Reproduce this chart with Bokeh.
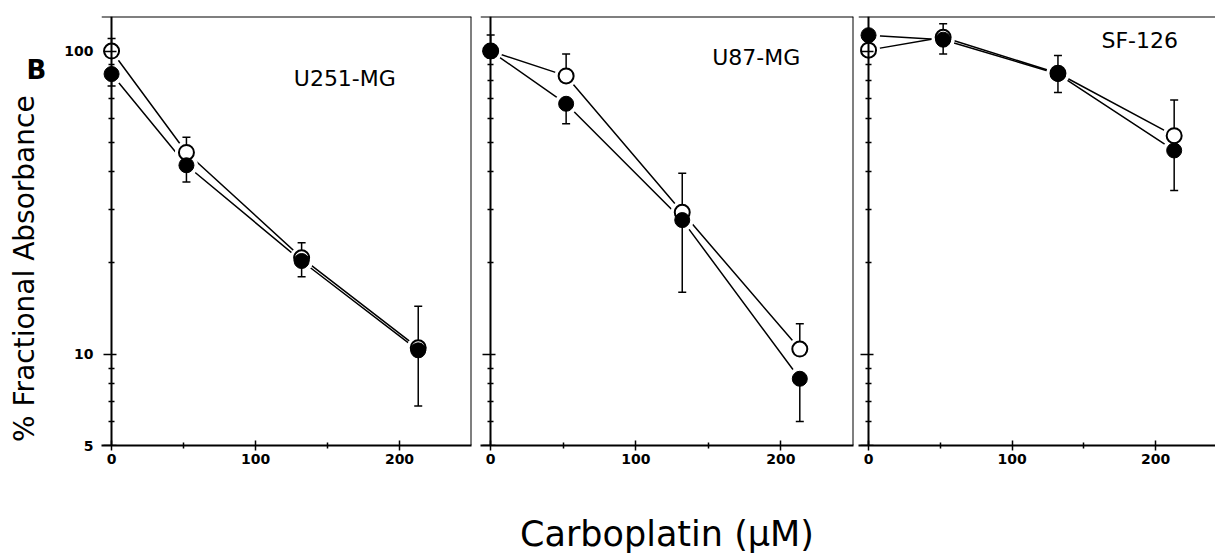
from bokeh.plotting import figure
from bokeh.layouts import row
from bokeh.models import LogAxis, FixedTicker, Label, Span, PrintfTickFormatter
from bokeh.embed import file_html
from bokeh.resources import INLINE

# ---------------- data ----------------
conc = [0, 52, 132, 213]  # Carboplatin (uM)

panel_names = ["U251-MG", "U87-MG", "SF-126"]

u251_open = [100, 46.3, 20.8, 10.5]
u251_open_hi = [110, 52, 23.3, 14.4]
u251_filled = [84, 42, 20.3, 10.3]
u251_filled_lo = [76.7, 37, 18, 6.75]

u87_open = [100, 82.8, 29.4, 10.4]
u87_open_hi = [113, 97.8, 39.5, 12.6]
u87_filled = [100, 67, 27.7, 8.3]
u87_filled_lo = [95, 57.6, 16.0, 6.0]

sf126_open = [100.7, 111, 84.5, 52.6]
sf126_open_hi = [103, 123, 96.7, 69]
sf126_filled = [112.8, 109, 84, 47]
sf126_filled_lo = [108, 97.8, 73, 34.7]

x_major = [0, 100, 200]
x_minor = [50, 150]
y_major = [5, 10, 100]
y_minor = [6, 7, 8, 9, 20, 30, 40, 50, 60, 70, 80, 90]

FONT = "DejaVu Sans"
Y0, Y1 = 5, 130
XSTART = -7
H = 558
TOP = 16
BOTTOM = 113


def make_panel(name, o, o_hi, f, f_lo, frame_w, lb, rb, xend, show_ylab,
               xlabel, right_border, title_xy):
    p = figure(width=lb + frame_w + rb, height=H,
               x_range=(XSTART, xend), y_range=(Y0, Y1),
               y_axis_type="log", y_axis_location=None,
               output_backend="svg", toolbar_location=None,
               min_border_left=lb, min_border_right=rb,
               min_border_top=TOP, min_border_bottom=BOTTOM)
    p.outline_line_color = None
    p.grid.visible = False
    p.background_fill_color = "white"
    p.border_fill_color = "white"

    xa = p.xaxis[0]
    xa.ticker = FixedTicker(ticks=x_major, minor_ticks=x_minor)
    xa.axis_line_width = 2
    xa.major_tick_in = 5
    xa.major_tick_out = 5
    xa.minor_tick_in = 3
    xa.minor_tick_out = 3
    xa.major_tick_line_width = 1.5
    xa.minor_tick_line_width = 1.5
    xa.major_label_text_font = FONT
    xa.major_label_text_font_style = "bold"
    xa.major_label_text_font_size = "14px"
    xa.major_label_text_color = "black"
    xa.major_label_standoff = 3
    if xlabel:
        xa.axis_label = xlabel
        xa.axis_label_text_font = FONT
        xa.axis_label_text_font_style = "normal"
        xa.axis_label_text_font_size = "35px"
        xa.axis_label_text_color = "black"
        xa.axis_label_standoff = 47

    # axis line + ticks drawn at x = 0
    ya = LogAxis(fixed_location=0,
                 ticker=FixedTicker(ticks=y_major, minor_ticks=y_minor),
                 formatter=PrintfTickFormatter(format="%d"))
    ya.axis_line_width = 2
    ya.major_tick_in = 5
    ya.major_tick_out = 8
    ya.minor_tick_in = 3
    ya.minor_tick_out = 3
    ya.major_tick_line_width = 1.5
    ya.minor_tick_line_width = 1.5
    ya.major_label_text_color = None
    p.add_layout(ya, "left")

    if show_ylab:
        # tick labels only, at the frame's left edge
        yl = LogAxis(ticker=FixedTicker(ticks=y_major, minor_ticks=[]),
                     formatter=PrintfTickFormatter(format="%d"))
        yl.axis_line_color = None
        yl.major_tick_line_color = None
        yl.minor_tick_line_color = None
        yl.major_tick_in = 0
        yl.major_tick_out = 0
        yl.minor_tick_in = 0
        yl.minor_tick_out = 0
        yl.major_label_text_font = FONT
        yl.major_label_text_font_style = "bold"
        yl.major_label_text_font_size = "14px"
        yl.major_label_text_color = "black"
        yl.major_label_standoff = 8
        p.add_layout(yl, "left")

    p.add_layout(Span(location=Y1, dimension="width", line_width=2, line_color="black"))
    if right_border:
        p.add_layout(Span(location=xend, dimension="height", line_width=2, line_color="black"))

    # connecting lines
    p.line(conc, o, line_color="black", line_width=1.5)
    p.line(conc, f, line_color="black", line_width=1.5)
    # white halos that create gaps between lines and markers
    p.scatter(conc, o, size=23, fill_color="white", line_color=None)
    p.scatter(conc, f, size=23, fill_color="white", line_color=None)
    # error bars
    p.segment(x0=conc, y0=o, x1=conc, y1=o_hi, line_color="black", line_width=1.5)
    p.scatter(conc, o_hi, marker="dash", size=8, line_color="black", line_width=1.5)
    p.segment(x0=conc, y0=f, x1=conc, y1=f_lo, line_color="black", line_width=1.5)
    p.scatter(conc, f_lo, marker="dash", size=8, line_color="black", line_width=1.5)
    # markers
    p.scatter(conc, o, size=15, fill_color="white", line_color="black", line_width=2)
    p.scatter(conc, f, size=15, fill_color="black", line_color="black", line_width=1)

    p.add_layout(Label(x=title_xy[0], y=title_xy[1], text=name,
                       text_font=FONT, text_font_size="22px", text_color="black",
                       text_align="center", text_baseline="middle"))
    return p


# narrow strip that carries the panel letter and the y axis title
p0 = figure(width=50, height=H, x_range=(0, 50), y_range=(0, H),
            x_axis_location=None, y_axis_location=None,
            output_backend="svg", toolbar_location=None,
            min_border_left=0, min_border_right=0, min_border_top=0, min_border_bottom=0)
p0.outline_line_color = None
p0.grid.visible = False
p0.add_layout(Label(x=24, y=H - 328, text="% Fractional Absorbance", angle=1.5708,
                    text_font=FONT, text_font_size="28px", text_color="black",
                    text_align="center", text_baseline="middle"))
p0.add_layout(Label(x=36, y=H - 69, text="B", text_font=FONT,
                    text_font_style="bold", text_font_size="26px", text_color="black",
                    text_align="center", text_baseline="middle"))

p1 = make_panel(panel_names[0], u251_open, u251_open_hi, u251_filled, u251_filled_lo,
                370, 51, 3, 250, True, None, True, (162, 81))

p2 = make_panel(panel_names[1], u87_open, u87_open_hi, u87_filled, u87_filled_lo,
                373, 6, 2, 250, False, "Carboplatin (μM)", True, (183, 95))

p3 = make_panel(panel_names[2], sf126_open, sf126_open_hi, sf126_filled, sf126_filled_lo,
                357, 3, 0, 241.8, False, None, False, (189, 108))

layout = row(p0, p1, p2, p3)
open("out.html", "w").write(file_html(layout, INLINE))
